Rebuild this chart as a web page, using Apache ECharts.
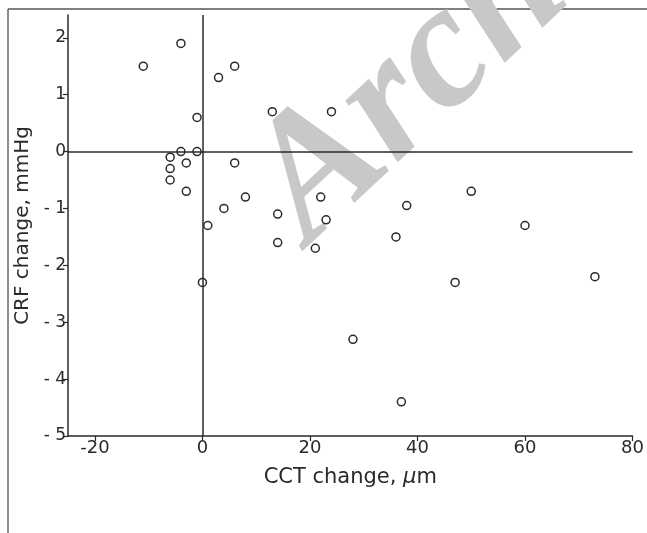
<!DOCTYPE html>
<html>
<head>
<meta charset="utf-8">
<script src="https://cdn.jsdelivr.net/npm/echarts@6/dist/echarts.min.js"></script>
<style>html,body{margin:0;padding:0;background:#fff;}#c{width:647px;height:533px;}</style>
</head>
<body>
<div id="c"></div>
<script>
// CCT change (μm) and CRF change (mmHg)
const cctChange = [-11, -4, 3, 6, -1, -4, -1, -6, -3, 6, -6, -6, -3, 8, 4, 1, 0, 13, 24, 14, 22, 23, 14, 21, 50, 38, 36, 47, 28, 37, 60, 73];
const crfChange = [1.5, 1.9, 1.3, 1.5, 0.6, 0, 0, -0.1, -0.2, -0.2, -0.3, -0.5, -0.7, -0.8, -1.0, -1.3, -2.3, 0.7, 0.7, -1.1, -0.8, -1.2, -1.6, -1.7, -0.7, -0.95, -1.5, -2.3, -3.3, -4.4, -1.3, -2.2];
const xTicks = [-20, 0, 20, 40, 60, 80];
const yTicks = [-5, -4, -3, -2, -1, 0, 1, 2];

const points = cctChange.map((x, i) => [x, crfChange[i]]);
const ink = '#2a2a2a';
const font = 'DejaVu Sans, Verdana, sans-serif';

const chart = echarts.init(document.getElementById('c'), null, {renderer: 'canvas'});
chart.setOption({
  animation: false,
  backgroundColor: '#fff',
  grid: {left: 68, right: 14, top: 15, bottom: 97},
  graphic: [
    {type: 'line', z: -10, shape: {x1: 8, y1: 9, x2: 647, y2: 9}, style: {stroke: '#555', lineWidth: 1.5}},
    {type: 'line', z: -10, shape: {x1: 8, y1: 9, x2: 8, y2: 533}, style: {stroke: '#666', lineWidth: 1.5}},
    {type: 'text', z: -5, x: 338, y: 276, rotation: 0.75,
      style: {text: 'Archive of SID', fill: '#c8c8c8', fontFamily: 'Liberation Serif, Times New Roman, serif',
        fontStyle: 'italic', fontWeight: 'bold', fontSize: 176, textAlign: 'left', textVerticalAlign: 'bottom'}}
  ],
  xAxis: {
    type: 'value', min: -25, max: 80,
    name: 'CCT change, {i|μ}m', nameLocation: 'middle', nameGap: 31,
    nameTextStyle: {color: ink, fontFamily: font, fontSize: 21,
      rich: {i: {fontStyle: 'italic', fontFamily: font, fontSize: 21, color: ink}}},
    splitLine: {show: false},
    axisLine: {onZero: false, lineStyle: {color: ink, width: 1.5}},
    axisTick: {show: true, customValues: xTicks, length: 5, lineStyle: {color: ink, width: 1.2}},
    axisLabel: {customValues: xTicks, color: ink, fontFamily: font, fontSize: 18, margin: 3}
  },
  yAxis: {
    type: 'value', min: -5, max: 2.4,
    name: 'CRF change, mmHg', nameLocation: 'middle', nameGap: 32, nameRotate: 90,
    nameTextStyle: {color: ink, fontFamily: font, fontSize: 20},
    splitLine: {show: false},
    axisLine: {onZero: false, lineStyle: {color: ink, width: 1.5}},
    axisTick: {show: true, customValues: yTicks, length: 5, lineStyle: {color: ink, width: 1.2}},
    axisLabel: {customValues: yTicks, color: ink, fontFamily: font, fontSize: 17, margin: 2,
      formatter: v => v < 0 ? '- ' + Math.abs(v) : String(v)}
  },
  series: [{
    type: 'scatter',
    data: points,
    symbol: 'circle',
    symbolSize: 8,
    itemStyle: {color: '#fff', borderColor: ink, borderWidth: 1.5, opacity: 1},
    markLine: {
      silent: true, symbol: ['none', 'none'], label: {show: false},
      lineStyle: {color: ink, type: 'solid', width: 1.5},
      data: [{xAxis: 0}, {yAxis: 0}]
    }
  }]
});
</script>
</body>
</html>
